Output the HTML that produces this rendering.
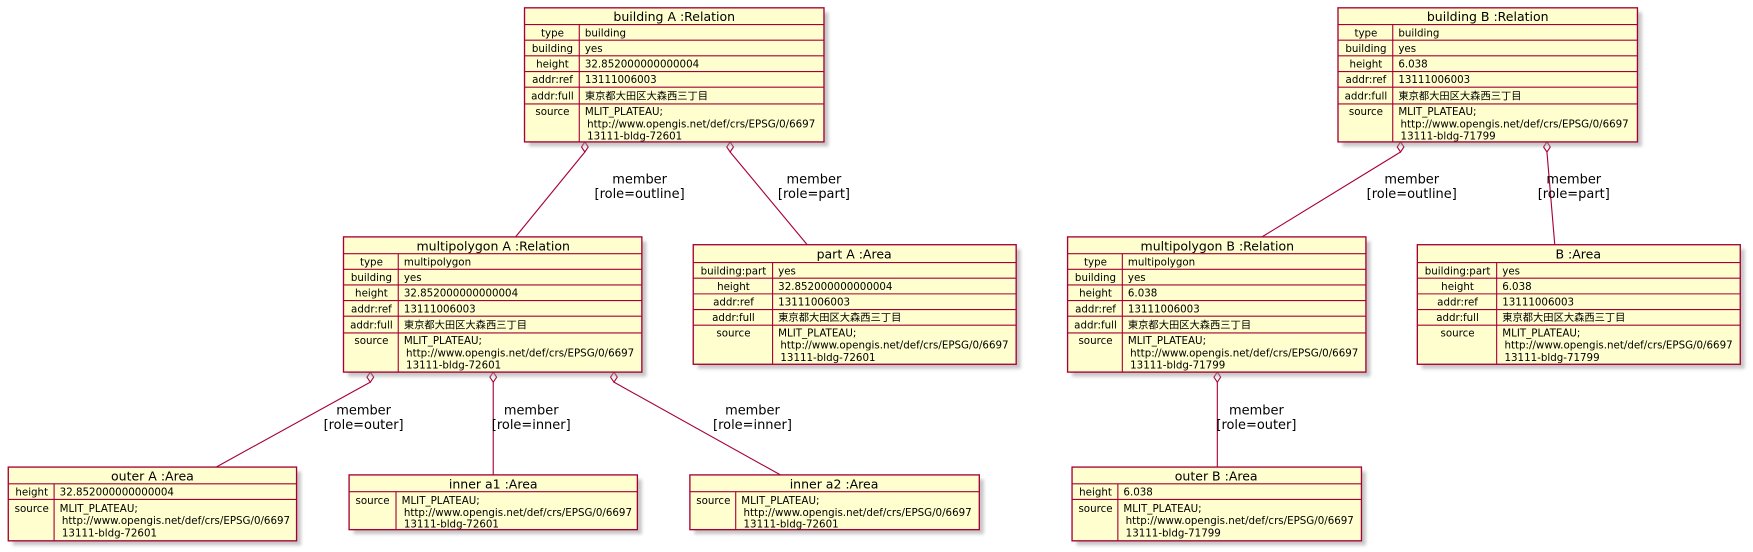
<!DOCTYPE html>
<html><head><meta charset="utf-8"><style>
html,body{margin:0;padding:0;background:#fff;width:1753px;height:552px;overflow:hidden}
svg{display:block}
text{font-family:"DejaVu Sans","Liberation Sans","Noto Sans CJK JP",sans-serif;fill:#000}
.k{font-size:9.2px;text-anchor:middle}
.v{font-size:9.2px}
.h{font-size:11.2px;text-anchor:middle}
.l{font-size:11.6px;text-anchor:middle}
.b{fill:#FEFECE;stroke:#A80036;stroke-width:1.2}
.s{fill:#999;opacity:.55;filter:url(#f)}
.ln{stroke:#A80036;stroke-width:1;fill:none}
.dm{fill:#fff;stroke:#A80036;stroke-width:1}
</style></head><body>
<svg width="1753" height="552" viewBox="0 0 1568 494" xmlns="http://www.w3.org/2000/svg">
<defs><filter id="f"><feGaussianBlur stdDeviation="1.5"/></filter></defs>

<!-- connectors -->
<g>
<line class="ln" x1="523" y1="136" x2="461" y2="212"/><path class="dm" d="M523,127 l3,4.5 l-3,4.5 l-3,-4.5z"/>
<text class="l" x="572" y="164">member</text><text class="l" x="572" y="177">[role=outline]</text>
<line class="ln" x1="653" y1="136" x2="722" y2="219"/><path class="dm" d="M653,127 l3,4.5 l-3,4.5 l-3,-4.5z"/>
<text class="l" x="728" y="164">member</text><text class="l" x="728" y="177">[role=part]</text>
<line class="ln" x1="1253" y1="136" x2="1129" y2="212"/><path class="dm" d="M1253,127 l3,4.5 l-3,4.5 l-3,-4.5z"/>
<text class="l" x="1263" y="164">member</text><text class="l" x="1263" y="177">[role=outline]</text>
<line class="ln" x1="1384" y1="136" x2="1391" y2="219"/><path class="dm" d="M1384,127 l3,4.5 l-3,4.5 l-3,-4.5z"/>
<text class="l" x="1408" y="164">member</text><text class="l" x="1408" y="177">[role=part]</text>
<line class="ln" x1="331" y1="342" x2="193" y2="418"/><path class="dm" d="M331,333 l3,4.5 l-3,4.5 l-3,-4.5z"/>
<text class="l" x="325" y="371">member</text><text class="l" x="325" y="384">[role=outer]</text>
<line class="ln" x1="441" y1="342" x2="441" y2="425"/><path class="dm" d="M441,333 l3,4.5 l-3,4.5 l-3,-4.5z"/>
<text class="l" x="475" y="371">member</text><text class="l" x="475" y="384">[role=inner]</text>
<line class="ln" x1="549" y1="342" x2="698" y2="425"/><path class="dm" d="M549,333 l3,4.5 l-3,4.5 l-3,-4.5z"/>
<text class="l" x="673" y="371">member</text><text class="l" x="673" y="384">[role=inner]</text>
<line class="ln" x1="1089" y1="342" x2="1089" y2="418"/><path class="dm" d="M1089,333 l3,4.5 l-3,4.5 l-3,-4.5z"/>
<text class="l" x="1124" y="371">member</text><text class="l" x="1124" y="384">[role=outer]</text>
</g>

<!-- building A -->
<g transform="translate(469,7)">
<rect class="s" x="4" y="4" width="268" height="120"/>
<rect class="b" x="0" y="0" width="268" height="120"/>
<g class="ln"><line x1="0" y1="15" x2="268" y2="15"/><line x1="0" y1="29" x2="268" y2="29"/><line x1="0" y1="43" x2="268" y2="43"/><line x1="0" y1="57" x2="268" y2="57"/><line x1="0" y1="71" x2="268" y2="71"/><line x1="0" y1="86" x2="268" y2="86"/><line x1="49" y1="15" x2="49" y2="120"/></g>
<text class="h" x="134" y="12">building A :Relation</text>
<text class="k" x="25" y="25.5">type</text><text class="v" x="54" y="25.5">building</text>
<text class="k" x="25" y="39.5">building</text><text class="v" x="54" y="39.5">yes</text>
<text class="k" x="25" y="53.5">height</text><text class="v" x="54" y="53.5">32.852000000000004</text>
<text class="k" x="25" y="67.5">addr:ref</text><text class="v" x="54" y="67.5">13111006003</text>
<text class="k" x="25" y="82">addr:full</text><text class="v" x="54" y="82">東京都大田区大森西三丁目</text>
<text class="k" x="25" y="96">source</text><text class="v" x="54" y="96">MLIT_PLATEAU;</text><text class="v" x="56" y="107">http://www.opengis.net/def/crs/EPSG/0/6697</text><text class="v" x="56" y="118">13111-bldg-72601</text>
</g>

<!-- building B -->
<g transform="translate(1197,7)">
<rect class="s" x="4" y="4" width="268" height="120"/>
<rect class="b" x="0" y="0" width="268" height="120"/>
<g class="ln"><line x1="0" y1="15" x2="268" y2="15"/><line x1="0" y1="29" x2="268" y2="29"/><line x1="0" y1="43" x2="268" y2="43"/><line x1="0" y1="57" x2="268" y2="57"/><line x1="0" y1="71" x2="268" y2="71"/><line x1="0" y1="86" x2="268" y2="86"/><line x1="49" y1="15" x2="49" y2="120"/></g>
<text class="h" x="134" y="12">building B :Relation</text>
<text class="k" x="25" y="25.5">type</text><text class="v" x="54" y="25.5">building</text>
<text class="k" x="25" y="39.5">building</text><text class="v" x="54" y="39.5">yes</text>
<text class="k" x="25" y="53.5">height</text><text class="v" x="54" y="53.5">6.038</text>
<text class="k" x="25" y="67.5">addr:ref</text><text class="v" x="54" y="67.5">13111006003</text>
<text class="k" x="25" y="82">addr:full</text><text class="v" x="54" y="82">東京都大田区大森西三丁目</text>
<text class="k" x="25" y="96">source</text><text class="v" x="54" y="96">MLIT_PLATEAU;</text><text class="v" x="56" y="107">http://www.opengis.net/def/crs/EPSG/0/6697</text><text class="v" x="56" y="118">13111-bldg-71799</text>
</g>

<!-- multipolygon A -->
<g transform="translate(307,212)">
<rect class="s" x="4" y="4" width="267" height="121"/>
<rect class="b" x="0" y="0" width="267" height="121"/>
<g class="ln"><line x1="0" y1="15" x2="267" y2="15"/><line x1="0" y1="29" x2="267" y2="29"/><line x1="0" y1="43" x2="267" y2="43"/><line x1="0" y1="57" x2="267" y2="57"/><line x1="0" y1="71" x2="267" y2="71"/><line x1="0" y1="86" x2="267" y2="86"/><line x1="49" y1="15" x2="49" y2="121"/></g>
<text class="h" x="134" y="12">multipolygon A :Relation</text>
<text class="k" x="25" y="25.5">type</text><text class="v" x="54" y="25.5">multipolygon</text>
<text class="k" x="25" y="39.5">building</text><text class="v" x="54" y="39.5">yes</text>
<text class="k" x="25" y="53.5">height</text><text class="v" x="54" y="53.5">32.852000000000004</text>
<text class="k" x="25" y="67.5">addr:ref</text><text class="v" x="54" y="67.5">13111006003</text>
<text class="k" x="25" y="82">addr:full</text><text class="v" x="54" y="82">東京都大田区大森西三丁目</text>
<text class="k" x="25" y="96">source</text><text class="v" x="54" y="96">MLIT_PLATEAU;</text><text class="v" x="56" y="107">http://www.opengis.net/def/crs/EPSG/0/6697</text><text class="v" x="56" y="118">13111-bldg-72601</text>
</g>

<!-- multipolygon B -->
<g transform="translate(955,212)">
<rect class="s" x="4" y="4" width="267" height="121"/>
<rect class="b" x="0" y="0" width="267" height="121"/>
<g class="ln"><line x1="0" y1="15" x2="267" y2="15"/><line x1="0" y1="29" x2="267" y2="29"/><line x1="0" y1="43" x2="267" y2="43"/><line x1="0" y1="57" x2="267" y2="57"/><line x1="0" y1="71" x2="267" y2="71"/><line x1="0" y1="86" x2="267" y2="86"/><line x1="49" y1="15" x2="49" y2="121"/></g>
<text class="h" x="134" y="12">multipolygon B :Relation</text>
<text class="k" x="25" y="25.5">type</text><text class="v" x="54" y="25.5">multipolygon</text>
<text class="k" x="25" y="39.5">building</text><text class="v" x="54" y="39.5">yes</text>
<text class="k" x="25" y="53.5">height</text><text class="v" x="54" y="53.5">6.038</text>
<text class="k" x="25" y="67.5">addr:ref</text><text class="v" x="54" y="67.5">13111006003</text>
<text class="k" x="25" y="82">addr:full</text><text class="v" x="54" y="82">東京都大田区大森西三丁目</text>
<text class="k" x="25" y="96">source</text><text class="v" x="54" y="96">MLIT_PLATEAU;</text><text class="v" x="56" y="107">http://www.opengis.net/def/crs/EPSG/0/6697</text><text class="v" x="56" y="118">13111-bldg-71799</text>
</g>

<!-- part A -->
<g transform="translate(620,219)">
<rect class="s" x="4" y="4" width="289" height="107"/>
<rect class="b" x="0" y="0" width="289" height="107"/>
<g class="ln"><line x1="0" y1="16" x2="289" y2="16"/><line x1="0" y1="30" x2="289" y2="30"/><line x1="0" y1="44" x2="289" y2="44"/><line x1="0" y1="58" x2="289" y2="58"/><line x1="0" y1="72" x2="289" y2="72"/><line x1="71" y1="16" x2="71" y2="107"/></g>
<text class="h" x="144" y="12.5">part A :Area</text>
<text class="k" x="36" y="26.5">building:part</text><text class="v" x="76" y="26.5">yes</text>
<text class="k" x="36" y="40.5">height</text><text class="v" x="76" y="40.5">32.852000000000004</text>
<text class="k" x="36" y="54.5">addr:ref</text><text class="v" x="76" y="54.5">13111006003</text>
<text class="k" x="36" y="68.5">addr:full</text><text class="v" x="76" y="68.5">東京都大田区大森西三丁目</text>
<text class="k" x="36" y="82">source</text><text class="v" x="76" y="82">MLIT_PLATEAU;</text><text class="v" x="78" y="93">http://www.opengis.net/def/crs/EPSG/0/6697</text><text class="v" x="78" y="104">13111-bldg-72601</text>
</g>

<!-- B Area -->
<g transform="translate(1268,219)">
<rect class="s" x="4" y="4" width="289" height="107"/>
<rect class="b" x="0" y="0" width="289" height="107"/>
<g class="ln"><line x1="0" y1="16" x2="289" y2="16"/><line x1="0" y1="30" x2="289" y2="30"/><line x1="0" y1="44" x2="289" y2="44"/><line x1="0" y1="58" x2="289" y2="58"/><line x1="0" y1="72" x2="289" y2="72"/><line x1="71" y1="16" x2="71" y2="107"/></g>
<text class="h" x="144" y="12.5">B :Area</text>
<text class="k" x="36" y="26.5">building:part</text><text class="v" x="76" y="26.5">yes</text>
<text class="k" x="36" y="40.5">height</text><text class="v" x="76" y="40.5">6.038</text>
<text class="k" x="36" y="54.5">addr:ref</text><text class="v" x="76" y="54.5">13111006003</text>
<text class="k" x="36" y="68.5">addr:full</text><text class="v" x="76" y="68.5">東京都大田区大森西三丁目</text>
<text class="k" x="36" y="82">source</text><text class="v" x="76" y="82">MLIT_PLATEAU;</text><text class="v" x="78" y="93">http://www.opengis.net/def/crs/EPSG/0/6697</text><text class="v" x="78" y="104">13111-bldg-71799</text>
</g>

<!-- outer A -->
<g transform="translate(7,418)">
<rect class="s" x="4" y="4" width="258" height="66"/>
<rect class="b" x="0" y="0" width="258" height="66"/>
<g class="ln"><line x1="0" y1="15" x2="258" y2="15"/><line x1="0" y1="29" x2="258" y2="29"/><line x1="41" y1="15" x2="41" y2="66"/></g>
<text class="h" x="129" y="12">outer A :Area</text>
<text class="k" x="21" y="25.5">height</text><text class="v" x="46" y="25.5">32.852000000000004</text>
<text class="k" x="21" y="40">source</text><text class="v" x="46" y="40">MLIT_PLATEAU;</text><text class="v" x="48" y="51">http://www.opengis.net/def/crs/EPSG/0/6697</text><text class="v" x="48" y="62">13111-bldg-72601</text>
</g>

<!-- outer B -->
<g transform="translate(959,418)">
<rect class="s" x="4" y="4" width="259" height="66"/>
<rect class="b" x="0" y="0" width="259" height="66"/>
<g class="ln"><line x1="0" y1="15" x2="259" y2="15"/><line x1="0" y1="29" x2="259" y2="29"/><line x1="41" y1="15" x2="41" y2="66"/></g>
<text class="h" x="129" y="12">outer B :Area</text>
<text class="k" x="21" y="25.5">height</text><text class="v" x="46" y="25.5">6.038</text>
<text class="k" x="21" y="40">source</text><text class="v" x="46" y="40">MLIT_PLATEAU;</text><text class="v" x="48" y="51">http://www.opengis.net/def/crs/EPSG/0/6697</text><text class="v" x="48" y="62">13111-bldg-71799</text>
</g>

<!-- inner a1 -->
<g transform="translate(312,425)">
<rect class="s" x="4" y="4" width="258" height="49"/>
<rect class="b" x="0" y="0" width="258" height="49"/>
<g class="ln"><line x1="0" y1="15" x2="258" y2="15"/><line x1="42" y1="15" x2="42" y2="49"/></g>
<text class="h" x="129" y="12">inner a1 :Area</text>
<text class="k" x="21" y="26">source</text><text class="v" x="47" y="26">MLIT_PLATEAU;</text><text class="v" x="49" y="37">http://www.opengis.net/def/crs/EPSG/0/6697</text><text class="v" x="49" y="47">13111-bldg-72601</text>
</g>

<!-- inner a2 -->
<g transform="translate(617,425)">
<rect class="s" x="4" y="4" width="259" height="49"/>
<rect class="b" x="0" y="0" width="259" height="49"/>
<g class="ln"><line x1="0" y1="15" x2="259" y2="15"/><line x1="41" y1="15" x2="41" y2="49"/></g>
<text class="h" x="129" y="12">inner a2 :Area</text>
<text class="k" x="21" y="26">source</text><text class="v" x="46" y="26">MLIT_PLATEAU;</text><text class="v" x="48" y="37">http://www.opengis.net/def/crs/EPSG/0/6697</text><text class="v" x="48" y="47">13111-bldg-72601</text>
</g>
</svg>
</body></html>
